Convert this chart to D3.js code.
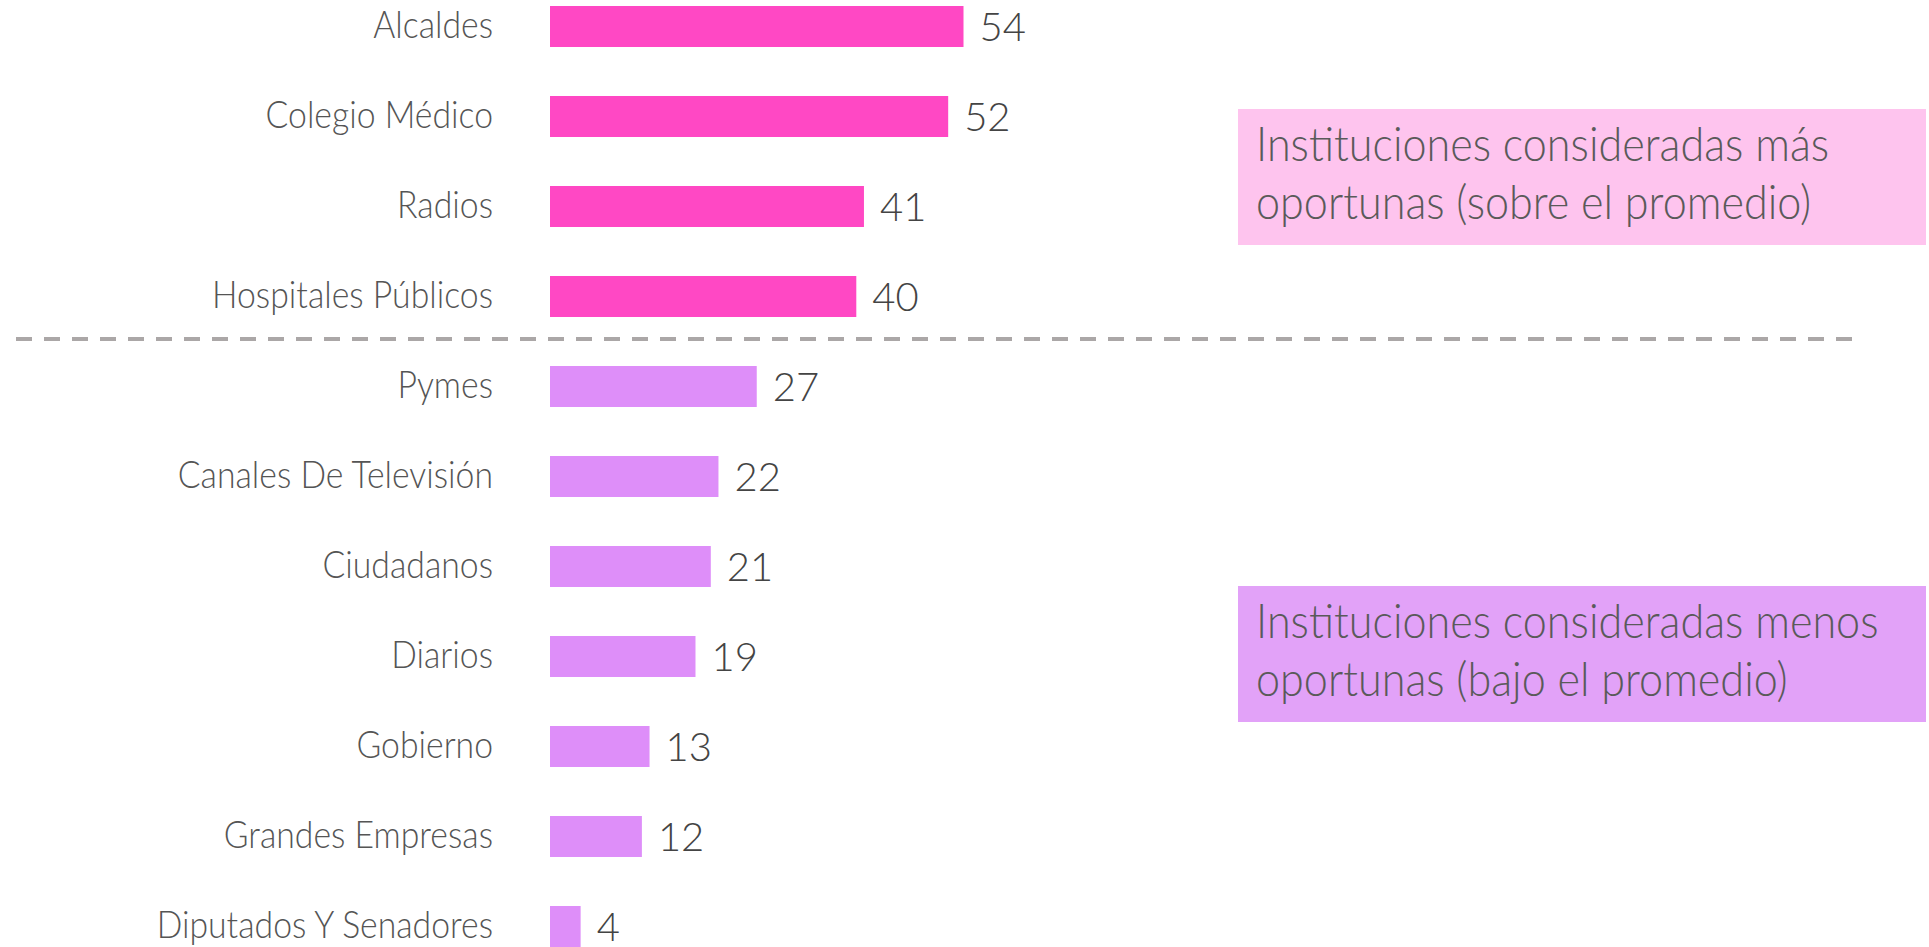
<!DOCTYPE html>
<html>
<head>
<meta charset="utf-8">
<script src="https://cdn.jsdelivr.net/npm/d3@7"></script>
<style>
  body { margin: 0; background: #fff; }
  svg { display: block; }
  text { font-family: Lato, "Open Sans", sans-serif; font-weight: 300; }
</style>
</head>
<body>
<div id="chart"></div>
<script>
// data
var categories = ["Alcaldes", "Colegio Médico", "Radios", "Hospitales Públicos",
  "Pymes", "Canales De Televisión", "Ciudadanos", "Diarios", "Gobierno",
  "Grandes Empresas", "Diputados Y Senadores"];
var values = [54, 52, 41, 40, 27, 22, 21, 19, 13, 12, 4];
var groups = ["sobre", "sobre", "sobre", "sobre",
  "bajo", "bajo", "bajo", "bajo", "bajo", "bajo", "bajo"];
var notes = [
  {group: "sobre", lines: ["Instituciones consideradas más", "oportunas (sobre el promedio)"]},
  {group: "bajo", lines: ["Instituciones consideradas menos", "oportunas (bajo el promedio)"]}
];

var width = 1929, height = 947;
var barColor = {sobre: "#ff48c4", bajo: "#de8ef9"};
var boxColor = {sobre: "#fec4ee", bajo: "#e2a2f8"};

var data = categories.map(function(c, i) {
  return {name: c, value: values[i], group: groups[i]};
});

var svg = d3.select("#chart").append("svg")
  .attr("width", width)
  .attr("height", height);

// scales
var x = d3.scaleLinear()
  .domain([0, 54])
  .range([550, 963.5]);

var y = d3.scaleBand()
  .domain(categories)
  .range([-18.5, 971.5])
  .paddingInner(49 / 90)
  .paddingOuter(49 / 180);

// bars
svg.selectAll(".bar")
  .data(data)
  .enter()
  .append("rect")
  .attr("class", "bar")
  .attr("x", x(0))
  .attr("y", function(d) { return y(d.name); })
  .attr("width", function(d) { return x(d.value) - x(0); })
  .attr("height", y.bandwidth())
  .attr("fill", function(d) { return barColor[d.group]; });

// category labels
svg.selectAll(".cat")
  .data(data)
  .enter()
  .append("text")
  .attr("class", "cat")
  .attr("transform", function(d) {
    return "translate(493," + (y(d.name) + y.bandwidth() / 2 + 11) + ") scale(0.913,1)";
  })
  .attr("text-anchor", "end")
  .attr("font-size", 37)
  .attr("fill", "#555")
  .text(function(d) { return d.name; });

// value labels
svg.selectAll(".val")
  .data(data)
  .enter()
  .append("text")
  .attr("class", "val")
  .attr("x", function(d) { return x(d.value) + 16; })
  .attr("y", function(d) { return y(d.name) + y.bandwidth() / 2 + 14.5; })
  .attr("font-size", 40)
  .attr("fill", "#444")
  .text(function(d) { return d.value; });

// average divider
var lineY = y("Pymes") - 27;
svg.append("line")
  .attr("x1", 16)
  .attr("x2", 1852)
  .attr("y1", lineY)
  .attr("y2", lineY)
  .attr("stroke", "#aba7a7")
  .attr("stroke-width", 4)
  .attr("stroke-dasharray", "16,12");

// annotation boxes
var boxTop = {sobre: 109, bajo: 586};
var note = svg.selectAll(".note")
  .data(notes)
  .enter()
  .append("g")
  .attr("class", "note")
  .attr("transform", function(d) { return "translate(1238," + boxTop[d.group] + ")"; });

note.append("rect")
  .attr("width", 688)
  .attr("height", 136)
  .attr("fill", function(d) { return boxColor[d.group]; });

note.selectAll("text")
  .data(function(d) { return d.lines; })
  .enter()
  .append("text")
  .attr("transform", function(d, i) { return "translate(18," + (52 + i * 58) + ") scale(0.918,1)"; })
  .attr("font-size", 47)
  .attr("fill", "#5a5a5a")
  .text(function(d) { return d; });
</script>
</body>
</html>
